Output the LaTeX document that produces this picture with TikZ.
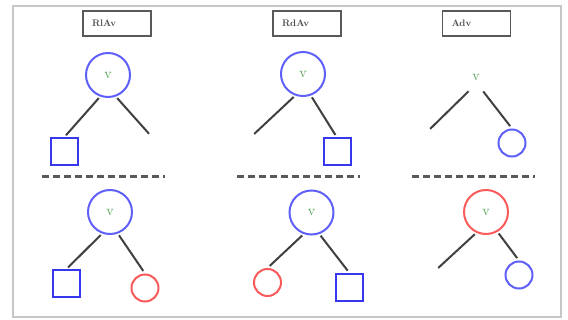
\documentclass[tikz,border=0pt]{standalone}
\usepackage{xcolor}
\usetikzlibrary{arrows.meta}
\definecolor{headblue}{RGB}{95,95,250}
\definecolor{leafblue}{RGB}{55,55,240}
\definecolor{headred}{RGB}{250,90,90}
\definecolor{tokgreen}{RGB}{80,160,80}
\newcommand\rbig{22pt}
\newcommand\rsmall{13.5pt}
\newcommand\sqw{27pt}
\newcommand\sepy{177}

\tikzset{
  tag/.style={draw=black!65, line width=1.6pt, text width=50pt, align=left, inner xsep=9pt,
    minimum height=25pt, font=\fontsize{9.5}{10}\selectfont\bfseries, text=black!70},
  head/.style={circle, draw=headblue, line width=2pt, minimum size=2*\rbig, inner sep=0pt,
    font=\Large, text=tokgreen},
  token/.style={circle, minimum size=28pt, inner sep=0pt, font=\Large, text=tokgreen},
  leafsq/.style={draw=leafblue, line width=2pt, minimum size=\sqw, inner sep=0pt},
  leafc/.style={circle, line width=2pt, minimum size=2*\rsmall, inner sep=0pt},
  branch/.style={draw=black!75, line width=2pt, shorten <=2pt, shorten >=3pt},
  sep/.style={draw=black!65, line width=3pt, dash pattern=on 7pt off 4pt}
}

\begin{document}
\begin{tikzpicture}[x=1pt,y=-1pt]
    \useasboundingbox (0,0) rectangle (568,320);
    \draw[black!22, line width=2.5pt] (13,6) rectangle (561,317);

    \begin{scope}
      \node[tag] (t1) at (117,23.5) {RlAv};
      \node[head] (h1) at (108,75) {v};
      \node[leafsq] (s1) at (64,152) {};
      \coordinate (e1) at (151,136);
      \draw[branch] (h1.-110) -- (s1.north);
      \draw[branch] (h1.-70) -- (e1);

      \draw[sep] (42,\sepy) -- (165,\sepy);

      \node[head] (h4) at (110,212) {v};
      \node[leafsq] (s4) at (66,284) {};
      \node[leafc, draw=headred] (l4) at (145,288) {};
      \draw[branch] (h4.-110) -- (s4.north);
      \draw[branch] (h4.-70) -- (l4.north);
    \end{scope}

    \begin{scope}
      \node[tag] (t2) at (307,23.5) {RdAv};
      \node[head] (h2) at (303,74) {v};
      \coordinate (e2) at (252,136);
      \node[leafsq] (s2) at (337,152) {};
      \draw[branch] (h2.-110) -- (e2);
      \draw[branch] (h2.-70) -- (s2.north);

      \draw[sep] (237,\sepy) -- (360,\sepy);

      \node[head] (h5) at (311.5,212.5) {v};
      \node[leafc, draw=headred] (l5) at (267.5,282.5) {};
      \node[leafsq] (s5) at (349.5,287.5) {};
      \draw[branch] (h5.-110) -- (l5.north);
      \draw[branch] (h5.-70) -- (s5.north);
    \end{scope}

    \begin{scope}
      \node[tag] (t3) at (476.5,23.5) {Adv};
      \node[token] (v3) at (476,77) {v};
      \coordinate (e3) at (428,131);
      \node[leafc, draw=headblue] (l3) at (512,143) {};
      \draw[branch] (v3.-115) -- (e3);
      \draw[branch] (v3.-65) -- (l3.north);

      \draw[sep] (412,\sepy) -- (535,\sepy);

      \node[head, draw=headred] (h6) at (486,212) {v};
      \coordinate (e6) at (436,270);
      \node[leafc, draw=headblue] (l6) at (519,275) {};
      \draw[branch] (h6.-115) -- (e6);
      \draw[branch] (h6.-60) -- (l6.north);
    \end{scope}
  \end{tikzpicture}
\end{document}
